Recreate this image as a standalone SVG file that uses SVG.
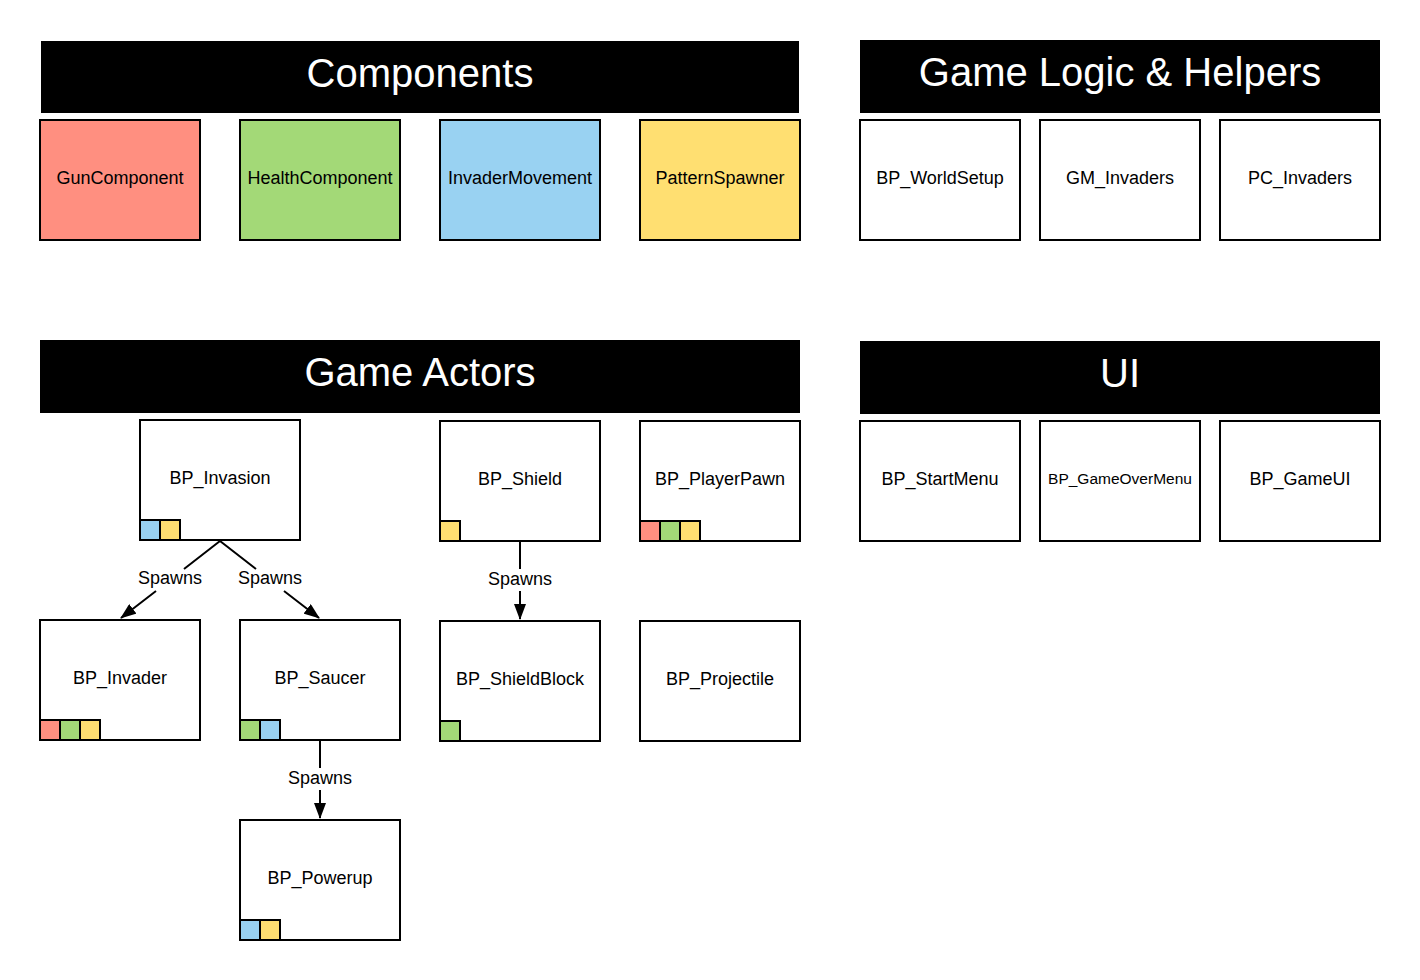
<svg xmlns="http://www.w3.org/2000/svg" width="1420" height="980" viewBox="0 0 1420 980">
<style>
.hdr{fill:#000}
.ht{fill:#fff;font-family:"Liberation Sans",Arial,sans-serif;font-size:40px;text-anchor:middle}
.box{fill:#fff;stroke:#000;stroke-width:2}
.t{fill:#000;font-family:"Liberation Sans",Arial,sans-serif;font-size:18px;text-anchor:middle}
.sm{font-size:15.5px}
.r{fill:#FF8F80;stroke:#000;stroke-width:2}
.g{fill:#A3D977;stroke:#000;stroke-width:2}
.b{fill:#99D2F2;stroke:#000;stroke-width:2}
.y{fill:#FFDF71;stroke:#000;stroke-width:2}
.c{stroke:#000;stroke-width:2;fill:none}
.lbl{fill:#000;font-family:"Liberation Sans",Arial,sans-serif;font-size:18px;text-anchor:middle}
</style>
<defs>
<marker id="ah" markerWidth="16" markerHeight="12" refX="15" refY="6" orient="auto" markerUnits="userSpaceOnUse" viewBox="0 0 16 12">
<path d="M0,0 L16,6 L0,12 z" fill="#000"/>
</marker>
</defs>
<rect width="1420" height="980" fill="#fff"/>

<g id="hdr-components"><rect class="hdr" x="41" y="41" width="758" height="72"/><text class="ht" x="420" y="87">Components</text></g>
<g id="hdr-logic"><rect class="hdr" x="860" y="40" width="520" height="73"/><text class="ht" x="1120" y="86">Game Logic &amp; Helpers</text></g>
<g id="hdr-actors"><rect class="hdr" x="40" y="340" width="760" height="73"/><text class="ht" x="420" y="386">Game Actors</text></g>
<g id="hdr-ui"><rect class="hdr" x="860" y="341" width="520" height="73"/><text class="ht" x="1120" y="387">UI</text></g>

<g id="GunComponent"><rect class="r" x="40" y="120" width="160" height="120"/><text class="t" x="120" y="184">GunComponent</text></g>
<g id="HealthComponent"><rect class="g" x="240" y="120" width="160" height="120"/><text class="t" x="320" y="184">HealthComponent</text></g>
<g id="InvaderMovement"><rect class="b" x="440" y="120" width="160" height="120"/><text class="t" x="520" y="184">InvaderMovement</text></g>
<g id="PatternSpawner"><rect class="y" x="640" y="120" width="160" height="120"/><text class="t" x="720" y="184">PatternSpawner</text></g>

<g id="BP_WorldSetup"><rect class="box" x="860" y="120" width="160" height="120"/><text class="t" x="940" y="184">BP_WorldSetup</text></g>
<g id="GM_Invaders"><rect class="box" x="1040" y="120" width="160" height="120"/><text class="t" x="1120" y="184">GM_Invaders</text></g>
<g id="PC_Invaders"><rect class="box" x="1220" y="120" width="160" height="120"/><text class="t" x="1300" y="184">PC_Invaders</text></g>

<g id="BP_StartMenu"><rect class="box" x="860" y="421" width="160" height="120"/><text class="t" x="940" y="485">BP_StartMenu</text></g>
<g id="BP_GameOverMenu"><rect class="box" x="1040" y="421" width="160" height="120"/><text class="t sm" x="1120" y="484">BP_GameOverMenu</text></g>
<g id="BP_GameUI"><rect class="box" x="1220" y="421" width="160" height="120"/><text class="t" x="1300" y="485">BP_GameUI</text></g>

<g id="BP_Invasion"><rect class="box" x="140" y="420" width="160" height="120"/><text class="t" x="220" y="484">BP_Invasion</text>
<rect class="b" x="140" y="520" width="20" height="20"/><rect class="y" x="160" y="520" width="20" height="20"/></g>
<g id="BP_Shield"><rect class="box" x="440" y="421" width="160" height="120"/><text class="t" x="520" y="485">BP_Shield</text>
<rect class="y" x="440" y="521" width="20" height="20"/></g>
<g id="BP_PlayerPawn"><rect class="box" x="640" y="421" width="160" height="120"/><text class="t" x="720" y="485">BP_PlayerPawn</text>
<rect class="r" x="640" y="521" width="20" height="20"/><rect class="g" x="660" y="521" width="20" height="20"/><rect class="y" x="680" y="521" width="20" height="20"/></g>
<g id="BP_Invader"><rect class="box" x="40" y="620" width="160" height="120"/><text class="t" x="120" y="684">BP_Invader</text>
<rect class="r" x="40" y="720" width="20" height="20"/><rect class="g" x="60" y="720" width="20" height="20"/><rect class="y" x="80" y="720" width="20" height="20"/></g>
<g id="BP_Saucer"><rect class="box" x="240" y="620" width="160" height="120"/><text class="t" x="320" y="684">BP_Saucer</text>
<rect class="g" x="240" y="720" width="20" height="20"/><rect class="b" x="260" y="720" width="20" height="20"/></g>
<g id="BP_ShieldBlock"><rect class="box" x="440" y="621" width="160" height="120"/><text class="t" x="520" y="685">BP_ShieldBlock</text>
<rect class="g" x="440" y="721" width="20" height="20"/></g>
<g id="BP_Projectile"><rect class="box" x="640" y="621" width="160" height="120"/><text class="t" x="720" y="685">BP_Projectile</text></g>
<g id="BP_Powerup"><rect class="box" x="240" y="820" width="160" height="120"/><text class="t" x="320" y="884">BP_Powerup</text>
<rect class="b" x="240" y="920" width="20" height="20"/><rect class="y" x="260" y="920" width="20" height="20"/></g>

<g id="connectors">
<path class="c" d="M220,541 L184,569 M156,591 L121,618" marker-end="url(#ah)"/>
<path class="c" d="M220,541 L256,569 M284,591 L319,618" marker-end="url(#ah)"/>
<path class="c" d="M520,542 L520,569 M520,591 L520,619" marker-end="url(#ah)"/>
<path class="c" d="M320,741 L320,768 M320,790 L320,818" marker-end="url(#ah)"/>
<text class="lbl" x="170" y="584">Spawns</text>
<text class="lbl" x="270" y="584">Spawns</text>
<text class="lbl" x="520" y="585">Spawns</text>
<text class="lbl" x="320" y="784">Spawns</text>
</g>
</svg>
